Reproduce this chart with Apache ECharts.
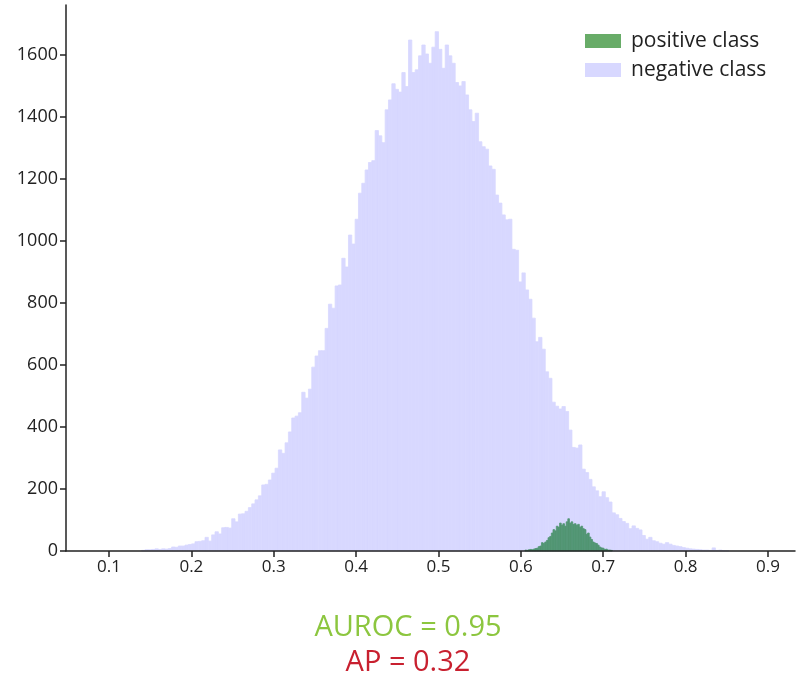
<!DOCTYPE html>
<html>
<head>
<meta charset="utf-8">
<script src="https://cdn.jsdelivr.net/npm/echarts@6/dist/echarts.min.js"></script>
<style>html,body{margin:0;padding:0;background:#fff}#chart{width:796px;height:681px}</style>
</head>
<body>
<div id="chart"></div>
<script>
// Negative class histogram: first bin edge, bin width, counts
const negStart = 0.1396;
const negWidth = 0.00405;
const negCounts = [2,4,4,5,7,5,7,6,8,13,12,16,16,19,21,23,30,31,33,44,32,52,62,55,75,76,74,104,94,119,
120,128,140,152,165,178,213,215,229,251,267,326,315,349,384,429,435,446,512,493,
522,593,629,646,646,718,796,783,855,858,944,916,1019,990,1070,1154,1186,1229,1253,1259,
1356,1339,1317,1423,1455,1507,1489,1480,1543,1498,1648,1543,1552,1597,1632,1603,1573,1625,1675,1618,
1557,1632,1597,1573,1511,1500,1514,1471,1423,1385,1412,1320,1304,1296,1242,1231,1148,1122,1084,1068,
1070,973,970,868,897,842,812,751,675,689,651,578,557,480,467,458,466,450,390,334,
332,342,264,253,231,207,194,175,191,172,158,123,117,105,95,89,72,81,73,68,
50,38,44,33,30,25,22,27,22,18,16,14,11,9,7,6,5,4,3,3,2,10,2,3,1,1];

// Positive class histogram
const posStart = 0.605;
const posWidth = 0.002;
const posCounts = [3,2,4,5,4,6,8,9,14,16,27,24,29,34,43,47,58,69,65,80,77,90,83,88,80,94,104,90,94,86,
88,83,86,77,80,72,69,54,58,45,37,29,26,24,19,13,10,9,5,6,3,3,2];

const xTicks = [0.1,0.2,0.3,0.4,0.5,0.6,0.7,0.8,0.9];
const yTicks = [0,200,400,600,800,1000,1200,1400,1600];
const seriesNames = ['positive class','negative class'];
const scoreTexts = ['AUROC = 0.95','AP = 0.32'];

const NEG_COLOR = 'rgb(216,216,255)';
const POS_COLOR = 'rgb(82,150,115)';
const POS_LEGEND = 'rgb(104,172,104)';

function toBins(start, width, counts){
  return counts.map((c,i)=>[start+i*width, start+(i+1)*width, c]);
}
function renderBin(params, api){
  const p0 = api.coord([api.value(0), 0]);
  const p1 = api.coord([api.value(1), api.value(2)]);
  const col = api.visual('color');
  return {
    type:'rect',
    shape:{x:p0[0], y:p1[1], width:Math.max(p1[0]-p0[0],0.5), height:p0[1]-p1[1]},
    style:{fill:col, stroke:col, lineWidth:0.8}
  };
}
const FONT = '"Open Sans", "DejaVu Sans", sans-serif';
const chart = echarts.init(document.getElementById('chart'), null, {renderer:'canvas'});
chart.setOption({
  animation:false,
  backgroundColor:'#fff',
  grid:{left:66, right:1, top:5, bottom:130, containLabel:false},
  legend:{
    orient:'vertical', left:580, top:25, itemWidth:36, itemHeight:14, itemGap:7,
    icon:'rect',
    textStyle:{fontFamily:FONT, fontSize:21, lineHeight:22, color:'#222', padding:[0,0,0,5]},
    data:[
      {name:seriesNames[0], itemStyle:{color:POS_LEGEND}},
      {name:seriesNames[1], itemStyle:{color:NEG_COLOR}}
    ]
  },
  xAxis:{
    type:'value', min:0.0478, max:0.9328, z:10,
    axisLine:{lineStyle:{color:'#222', width:1.5}},
    axisTick:{show:true, length:6, customValues:xTicks, lineStyle:{color:'#222', width:1.5}},
    axisLabel:{customValues:xTicks, fontFamily:FONT, fontSize:17, color:'#222', margin:8,
      formatter:v=>v.toFixed(1)},
    splitLine:{show:false}
  },
  yAxis:{
    type:'value', min:0, max:1761, z:10,
    axisLine:{show:true, lineStyle:{color:'#222', width:1.5}},
    axisTick:{show:true, length:6, customValues:yTicks, lineStyle:{color:'#222', width:1.5}},
    axisLabel:{customValues:yTicks, fontFamily:FONT, fontSize:18, color:'#222', margin:8,
      formatter:v=>String(v)},
    splitLine:{show:false}
  },
  series:[
    {
      name:seriesNames[1], type:'custom', renderItem:renderBin,
      itemStyle:{color:NEG_COLOR},
      encode:{x:[0,1], y:2},
      data:toBins(negStart, negWidth, negCounts), z:1
    },
    {
      name:seriesNames[0], type:'custom', renderItem:renderBin,
      itemStyle:{color:POS_COLOR},
      encode:{x:[0,1], y:2},
      data:toBins(posStart, posWidth, posCounts), z:2
    }
  ],
  graphic:[
    {type:'text', silent:true,
     style:{text:scoreTexts[0], x:408, y:628, textAlign:'center', textVerticalAlign:'middle',
       font:'29px '+FONT, fill:'#8cc63f'}},
    {type:'text', silent:true,
     style:{text:scoreTexts[1], x:408, y:663, textAlign:'center', textVerticalAlign:'middle',
       font:'29px '+FONT, fill:'#c8202f'}}
  ]
});
</script>
</body>
</html>
